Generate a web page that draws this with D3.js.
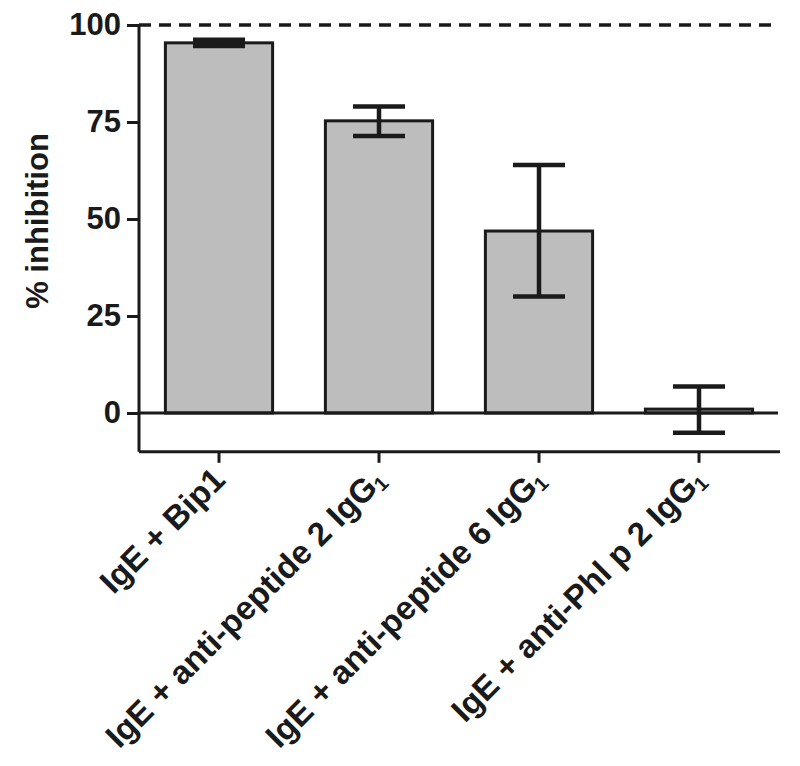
<!DOCTYPE html>
<meta charset="utf-8">
<style>
    body { margin: 0; background: #fff; }
    text { font-family: "Liberation Sans", Arial, sans-serif; font-weight: bold; fill: #1a1a1a; }
</style>
<body>
<script src="https://cdn.jsdelivr.net/npm/d3@7"></script>
<script>

    var width = 800,
        height = 766;

    // one bar per treatment, mean % inhibition with error range
    var categories = ["IgE + Bip1", "IgE + anti-peptide 2 IgG", "IgE + anti-peptide 6 IgG", "IgE + anti-Phl p 2 IgG"];
    var subscripts = ["", "1", "1", "1"];
    var means = [95.4, 75.3, 46.9, 1.0];
    var errLow = [94.6, 71.4, 30.0, -5.1];
    var errHigh = [96.2, 79.0, 63.9, 6.8];
    var yTicks = [0, 25, 50, 75, 100];

    var ink = "#1a1a1a";

    var x = d3.scaleBand()
        .domain(categories)
        .range([139, 779])
        .paddingInner(0.33)
        .paddingOuter(0.165);

    var y = d3.scaleLinear()
        .domain([-10, 100])
        .range([451.8, 25]);

    var svg = d3.select("body").append("svg")
        .attr("width", width)
        .attr("height", height);

    // dashed reference line at 100
    svg.append("line")
        .attr("x1", 139).attr("x2", 779)
        .attr("y1", y(100)).attr("y2", y(100))
        .attr("stroke", ink)
        .attr("stroke-width", 3.5)
        .attr("stroke-dasharray", "12,8");

    // bars
    svg.selectAll("rect.bar")
        .data(categories)
        .enter().append("rect")
        .attr("class", "bar")
        .attr("x", function(d) { return x(d); })
        .attr("width", x.bandwidth())
        .attr("y", function(d, i) { return y(Math.max(means[i], 0)); })
        .attr("height", function(d, i) { return Math.abs(y(means[i]) - y(0)); })
        .attr("fill", "#bdbdbd")
        .attr("stroke", ink)
        .attr("stroke-width", 3);

    // zero line
    svg.append("line")
        .attr("x1", 139).attr("x2", 778)
        .attr("y1", y(0)).attr("y2", y(0))
        .attr("stroke", ink)
        .attr("stroke-width", 3);

    // error bars
    var capW = 52;
    var err = svg.selectAll("g.err")
        .data(categories)
        .enter().append("g")
        .attr("class", "err")
        .attr("stroke", ink)
        .attr("stroke-width", 4.5);

    err.append("line")
        .attr("x1", function(d) { return x(d) + x.bandwidth() / 2; })
        .attr("x2", function(d) { return x(d) + x.bandwidth() / 2; })
        .attr("y1", function(d, i) { return y(errLow[i]); })
        .attr("y2", function(d, i) { return y(errHigh[i]); });

    err.append("line")
        .attr("x1", function(d) { return x(d) + x.bandwidth() / 2 - capW / 2; })
        .attr("x2", function(d) { return x(d) + x.bandwidth() / 2 + capW / 2; })
        .attr("y1", function(d, i) { return y(errHigh[i]); })
        .attr("y2", function(d, i) { return y(errHigh[i]); });

    err.append("line")
        .attr("x1", function(d) { return x(d) + x.bandwidth() / 2 - capW / 2; })
        .attr("x2", function(d) { return x(d) + x.bandwidth() / 2 + capW / 2; })
        .attr("y1", function(d, i) { return y(errLow[i]); })
        .attr("y2", function(d, i) { return y(errLow[i]); });

    // y axis
    var yAxis = svg.append("g")
        .attr("transform", "translate(139,0)")
        .call(d3.axisLeft(y).tickValues(yTicks).tickSize(12).tickPadding(6));
    yAxis.select(".domain")
        .attr("d", "M0," + y(100) + "V" + y(-10))
        .attr("stroke", ink).attr("stroke-width", 3);
    yAxis.selectAll(".tick line").attr("stroke", ink).attr("stroke-width", 3);
    yAxis.selectAll(".tick text")
        .style("font-size", "31px")
        .style("font-family", "'Liberation Sans', Arial, sans-serif")
        .style("font-weight", "bold")
        .attr("fill", ink);

    // x axis
    var xAxis = svg.append("g")
        .attr("transform", "translate(0," + y(-10) + ")")
        .call(d3.axisBottom(x).tickSize(11).tickFormat(""));
    xAxis.select(".domain")
        .attr("d", "M139,0H780")
        .attr("stroke", ink).attr("stroke-width", 3);
    xAxis.selectAll(".tick line").attr("stroke", ink).attr("stroke-width", 3);

    // rotated category labels
    var lab = svg.selectAll("text.cat")
        .data(categories)
        .enter().append("text")
        .attr("class", "cat")
        .attr("text-anchor", "end")
        .style("font-size", "33px")
        .attr("transform", function(d) {
            return "translate(" + (x(d) + x.bandwidth() / 2 + 8) + "," + (y(-10) + 30) + ") rotate(-45)";
        });
    lab.append("tspan").text(function(d) { return d; });
    lab.append("tspan")
        .attr("dy", 4)
        .style("font-size", "20px")
        .text(function(d, i) { return subscripts[i]; });

    // y axis title
    svg.append("text")
        .attr("transform", "translate(48,221) rotate(-90)")
        .attr("text-anchor", "middle")
        .style("font-size", "31px")
        .text("% inhibition");

</script>
